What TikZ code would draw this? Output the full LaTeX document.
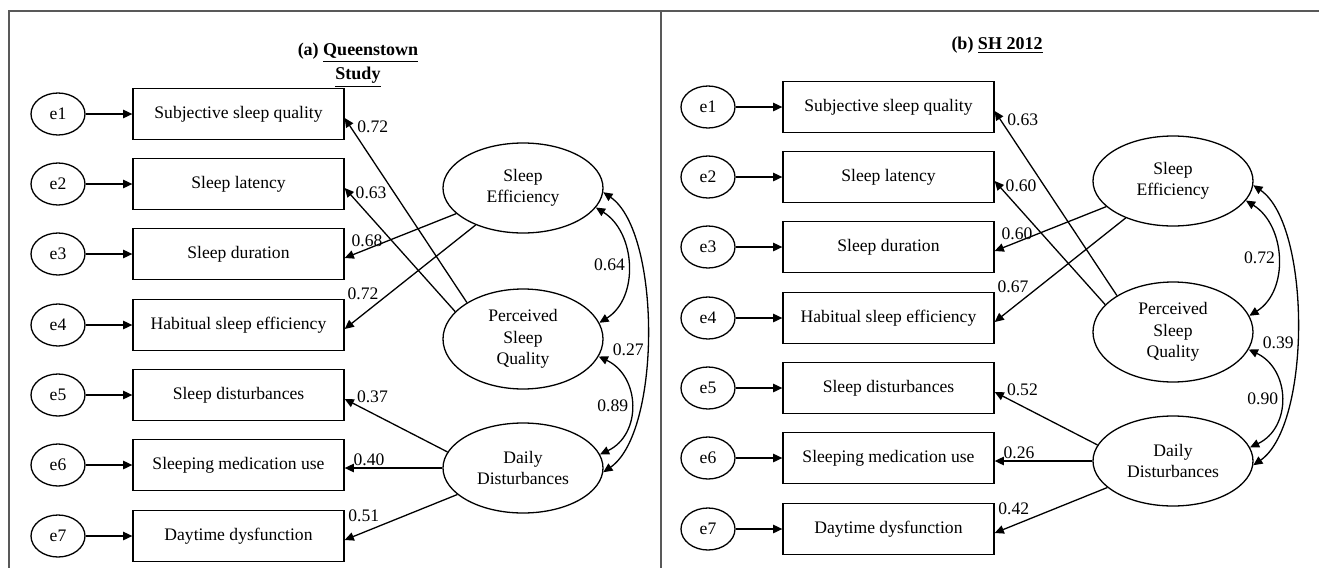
\documentclass[tikz,border=0pt]{standalone}
\usepackage{fontspec}
\setmainfont{Liberation Serif}
\usetikzlibrary{shapes.geometric,arrows.meta}

\begin{document}
\begin{tikzpicture}[x=0.5pt, y=0.5pt, >={Triangle[length=4.6pt,width=4.2pt]},
  every node/.style={font=\fontsize{8.8}{10.7}\selectfont},
  err/.style={ellipse, draw, line width=0.65pt, minimum width=27pt, minimum height=21pt, inner sep=0pt},
  item/.style={rectangle, draw, line width=0.65pt, minimum width=105.5pt, minimum height=25.5pt, inner sep=0pt},
  latent/.style={ellipse, draw, line width=0.65pt, minimum width=80pt, minimum height=45pt, inner sep=0pt, align=center},
  load/.style={->, line width=0.65pt},
  cov/.style={<->, line width=0.65pt},
  num/.style={inner sep=1pt},
  heading/.style={font=\fontsize{9}{12}\selectfont\bfseries, align=center},
  panelrule/.style={draw=black!65, line width=0.6pt}]
  \useasboundingbox (0,0) rectangle (1319,-568);
  \draw[panelrule] (9,-568) |- (1319,-11);
  \draw[panelrule] (661,-11) -- (661,-568);

  % (a) Queenstown Study
  \node[heading] (atitle) at (358,-65) {(a) \underline{Queenstown}\\\underline{Study}};

  \node[err] (ae1) at (58,-114) {e1};
  \node[err] (ae2) at (58,-184) {e2};
  \node[err] (ae3) at (58,-254) {e3};
  \node[err] (ae4) at (58,-325) {e4};
  \node[err] (ae5) at (58,-395) {e5};
  \node[err] (ae6) at (58,-465) {e6};
  \node[err] (ae7) at (58,-536) {e7};

  \node[item] (ai1) at (238.5,-114) {Subjective sleep quality};
  \node[item] (ai2) at (238.5,-184) {Sleep latency};
  \node[item] (ai3) at (238.5,-254) {Sleep duration};
  \node[item] (ai4) at (238.5,-325) {Habitual sleep efficiency};
  \node[item] (ai5) at (238.5,-395) {Sleep disturbances};
  \node[item] (ai6) at (238.5,-465) {Sleeping medication use};
  \node[item] (ai7) at (238.5,-536) {Daytime dysfunction};

  \node[latent] (ase) at (523,-188) {Sleep\\Efficiency};
  \node[latent, minimum height=50pt] (apsq) at (523,-339) {Perceived\\Sleep\\Quality};
  \node[latent] (add) at (523,-468) {Daily\\Disturbances};

  \draw[load] (ae1.east) -- (ai1.west);
  \draw[load] (ae2.east) -- (ai2.west);
  \draw[load] (ae3.east) -- (ai3.west);
  \draw[load] (ae4.east) -- (ai4.west);
  \draw[load] (ae5.east) -- (ai5.west);
  \draw[load] (ae6.east) -- (ai6.west);
  \draw[load] (ae7.east) -- (ai7.west);

  \draw[load] (apsq.147) -- node[num, pos=.95, right=2pt] {0.72} ([yshift=-2pt]ai1.east);
  \draw[load] (apsq.158) -- node[num, pos=.96, right=2pt] {0.63} ([yshift=-2pt]ai2.east);
  \draw[load] (ase.201) -- node[num, pos=.8, above] {0.68} ([yshift=-2pt]ai3.east);
  \draw[load] (ase.218) -- node[num, pos=.86, above=6pt] {0.72} ([yshift=-2pt]ai4.east);
  \draw[load] (add.168) -- node[num, pos=.73, above=4pt] {0.37} ([yshift=-2pt]ai5.east);
  \draw[load] (add.west) -- node[num, pos=.75, above] {0.40} (add.west -| ai6.east);
  \draw[load] (add.202) -- node[num, pos=.83, above=4pt] {0.51} ([yshift=-2pt]ai7.east);

  \draw[cov] (ase.-15) .. controls +(40,-25) and +(40,25) .. node[num, left] {0.64} (apsq.12);
  \draw[cov] (apsq.-13) .. controls +(42,-20) and +(42,20) .. node[num, left] {0.89} (add.10);
  \draw[cov] (ase.-3) .. controls +(58,-40) and +(58,40) .. node[num, pos=.55, left] {0.27} (add.-3);

  % (b) SH 2012
  \node[heading] (btitle) at (997,-45) {(b) \underline{SH 2012}};

  \begin{scope}[shift={(650,7)}]
  \node[err] (be1) at (58,-114) {e1};
  \node[err] (be2) at (58,-184) {e2};
  \node[err] (be3) at (58,-254) {e3};
  \node[err] (be4) at (58,-325) {e4};
  \node[err] (be5) at (58,-395) {e5};
  \node[err] (be6) at (58,-465) {e6};
  \node[err] (be7) at (58,-536) {e7};

  \node[item] (bi1) at (238.5,-114) {Subjective sleep quality};
  \node[item] (bi2) at (238.5,-184) {Sleep latency};
  \node[item] (bi3) at (238.5,-254) {Sleep duration};
  \node[item] (bi4) at (238.5,-325) {Habitual sleep efficiency};
  \node[item] (bi5) at (238.5,-395) {Sleep disturbances};
  \node[item] (bi6) at (238.5,-465) {Sleeping medication use};
  \node[item] (bi7) at (238.5,-536) {Daytime dysfunction};

  \node[latent] (bse) at (523,-188) {Sleep\\Efficiency};
  \node[latent, minimum height=50pt] (bpsq) at (523,-339) {Perceived\\Sleep\\Quality};
  \node[latent] (bdd) at (523,-468) {Daily\\Disturbances};
  \end{scope}

  \draw[load] (be1.east) -- (bi1.west);
  \draw[load] (be2.east) -- (bi2.west);
  \draw[load] (be3.east) -- (bi3.west);
  \draw[load] (be4.east) -- (bi4.west);
  \draw[load] (be5.east) -- (bi5.west);
  \draw[load] (be6.east) -- (bi6.west);
  \draw[load] (be7.east) -- (bi7.west);

  \draw[load] (bpsq.147) -- node[num, pos=.95, right=2pt] {0.63} ([yshift=-2pt]bi1.east);
  \draw[load] (bpsq.158) -- node[num, pos=.96, right=2pt] {0.60} ([yshift=-2pt]bi2.east);
  \draw[load] (bse.201) -- node[num, pos=.8, above] {0.60} ([yshift=-2pt]bi3.east);
  \draw[load] (bse.218) -- node[num, pos=.86, above=6pt] {0.67} ([yshift=-2pt]bi4.east);
  \draw[load] (bdd.168) -- node[num, pos=.73, above=4pt] {0.52} ([yshift=-2pt]bi5.east);
  \draw[load] (bdd.west) -- node[num, pos=.75, above] {0.26} (bdd.west -| bi6.east);
  \draw[load] (bdd.202) -- node[num, pos=.83, above=4pt] {0.42} ([yshift=-2pt]bi7.east);

  \draw[cov] (bse.-15) .. controls +(40,-25) and +(40,25) .. node[num, left] {0.72} (bpsq.12);
  \draw[cov] (bpsq.-13) .. controls +(42,-20) and +(42,20) .. node[num, left] {0.90} (bdd.10);
  \draw[cov] (bse.-3) .. controls +(58,-40) and +(58,40) .. node[num, pos=.55, left] {0.39} (bdd.-3);
\end{tikzpicture}
\end{document}
